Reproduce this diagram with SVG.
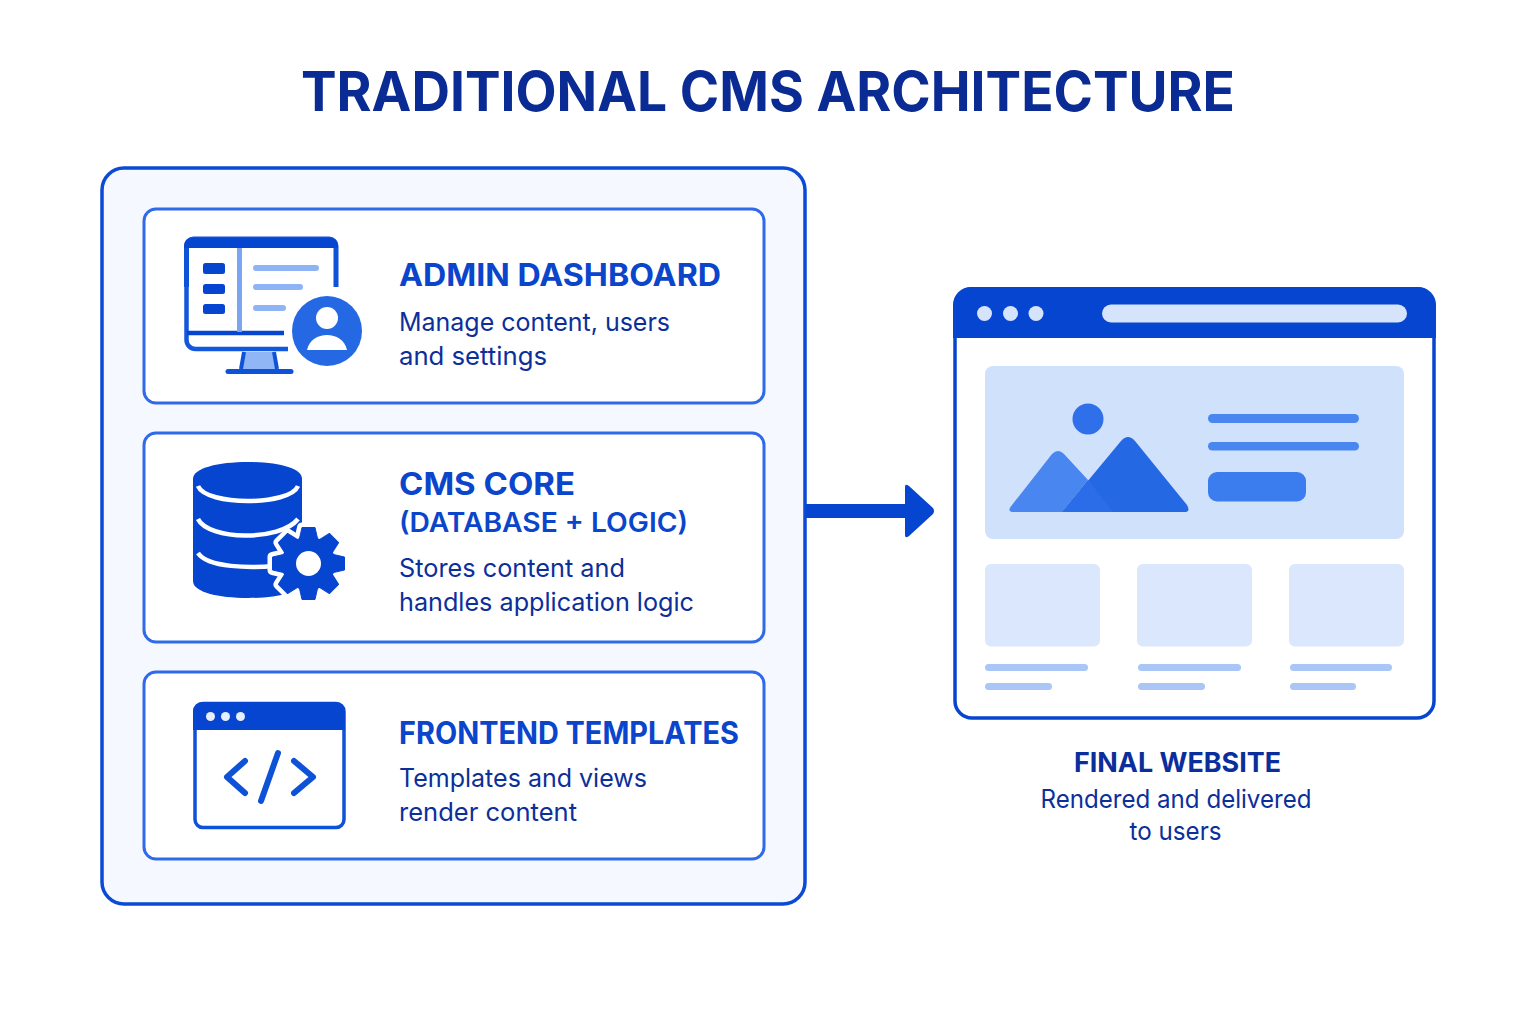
<svg xmlns="http://www.w3.org/2000/svg" xmlns:xlink="http://www.w3.org/1999/xlink" width="1536" height="1024" viewBox="0 0 1536 1024">
<style>
text{font-family:Inter,"Noto Sans","Liberation Sans",sans-serif}
.title{font-size:54.500px;font-weight:700;fill:#0a2a94}
.h{font-size:31px;font-weight:700;fill:#0a45cc}
.h2{font-size:27px;font-weight:600;fill:#0a45cc}
.b{font-size:25.500px;fill:#0c2f9a}
.card{fill:#fff;stroke:#2f6ae8;stroke-width:3}
.dk{fill:#0645d0}
.lt{fill:#8fb4f5}
</style>
<defs>
<g id="gearshape">
<circle r="26.500"/>
<polygon id="tooth" points="-9,-25 -6.500,-36 6.500,-36 9,-25" stroke-linejoin="round"/>
<use xlink:href="#tooth" transform="rotate(45)"/>
<use xlink:href="#tooth" transform="rotate(90)"/>
<use xlink:href="#tooth" transform="rotate(135)"/>
<use xlink:href="#tooth" transform="rotate(180)"/>
<use xlink:href="#tooth" transform="rotate(225)"/>
<use xlink:href="#tooth" transform="rotate(270)"/>
<use xlink:href="#tooth" transform="rotate(315)"/>
</g>
</defs>
<rect width="1536" height="1024" fill="#fff"/>
<text class="title" x="768" y="111" text-anchor="middle" textLength="934" lengthAdjust="spacingAndGlyphs">TRADITIONAL CMS ARCHITECTURE</text>

<g id="cms-panel"><rect x="102" y="168" width="703" height="736" rx="22" fill="#f5f8fe" stroke="#0a4ad4" stroke-width="3.500"/></g>

<g id="admin-dashboard">
<rect class="card" x="144" y="209" width="620" height="194" rx="12"/>
<path d="M186.500 287V246a7 7 0 0 1 7-7H329a7 7 0 0 1 7 7V287" fill="none" stroke="#0e52d8" stroke-width="5"/>
<path d="M184 246a8 8 0 0 1 8-8H330a8 8 0 0 1 8 8V248H184Z" class="dk"/>
<path d="M186.500 287V340a9 9 0 0 0 9 9H288" fill="none" stroke="#1358dc" stroke-width="4.500"/>
<path d="M187 333H284" stroke="#0645d0" stroke-width="4.500" fill="none"/>
<rect x="237" y="248" width="5" height="84" fill="#7aa5f2"/>
<rect class="dk" x="203" y="263" width="22" height="11" rx="2.500"/>
<rect class="dk" x="203" y="284" width="22" height="10" rx="2.500"/>
<rect class="dk" x="203" y="304" width="22" height="10" rx="2.500"/>
<rect class="lt" x="253" y="265" width="66" height="6" rx="3"/>
<rect class="lt" x="253" y="284" width="50" height="6" rx="3"/>
<rect class="lt" x="253" y="305" width="33" height="6" rx="3"/>
<path d="M244 352H274L277 369H241Z" fill="#90b6f5"/>
<path d="M244 352L241 369M274 352L277 369" stroke="#0e52d8" stroke-width="4" fill="none"/>
<path d="M228 371.500H291" stroke="#0e52d8" stroke-width="5" stroke-linecap="round"/>
<circle cx="327" cy="331" r="35" fill="#2568e4"/>
<circle cx="327" cy="318" r="11" fill="#fff"/>
<path d="M307 350C309 340 318 335 327 335S345 340 347 350Z" fill="#fff"/>
</g>

<g id="cms-core">
<rect class="card" x="144" y="433" width="620" height="209" rx="12"/>
<path class="dk" d="M193 479C193 468 218 462 248 462S302 468 302 479V581C302 592 278 598 248 598S193 592 193 581Z"/>
<g fill="none" stroke="#fff" stroke-width="4.500">
<path d="M198 486C206 506 290 506 298 486"/>
<path d="M198 519C208 540 280 542 298 519"/>
<path d="M198 553C208 568 250 568 275 566"/>
</g>
<g transform="translate(308.500 563.500)">
<use xlink:href="#gearshape" fill="#fff" stroke="#fff" stroke-width="10"/>
<use xlink:href="#gearshape" class="dk" stroke="#0645d0" stroke-width="1"/>
<circle r="12.500" fill="#fff"/>
</g>
</g>

<g id="frontend-templates">
<rect class="card" x="144" y="672" width="620" height="187" rx="12"/>
<rect x="195" y="703.500" width="149" height="124" rx="8" fill="#fff" stroke="#0e52d8" stroke-width="3.500"/>
<path class="dk" d="M193 711a9 9 0 0 1 9-9H336a9 9 0 0 1 9 9V730H193Z"/>
<circle cx="210.500" cy="716.500" r="4.500" fill="#e6effd"/>
<circle cx="225.500" cy="716.500" r="4.500" fill="#e6effd"/>
<circle cx="240.500" cy="716.500" r="4.500" fill="#e6effd"/>
<path d="M245 761L227 777L245 793M294 761L313 777L294 793M278 753L261 801" fill="none" stroke="#0e52d8" stroke-width="6" stroke-linecap="round" stroke-linejoin="round"/>
</g>

<g id="final-website">
<rect x="955" y="289" width="479" height="429" rx="17" fill="#fff" stroke="#0645d0" stroke-width="3.500"/>
<path class="dk" d="M953 338V305a18 18 0 0 1 18-18H1418a18 18 0 0 1 18 18V338Z"/>
<circle cx="984.500" cy="313.500" r="7.500" fill="#d6e4fb"/>
<circle cx="1010.500" cy="313.500" r="7.500" fill="#d6e4fb"/>
<circle cx="1036" cy="313.500" r="7.500" fill="#d6e4fb"/>
<rect x="1102" y="304.500" width="305" height="18" rx="9" fill="#d6e4fb"/>
<rect x="985" y="366" width="419" height="173" rx="8" fill="#d0e1fb"/>
<circle cx="1088" cy="419" r="15.500" fill="#2f70ea"/>
<path d="M1062 512L1121 441Q1128 433 1135 441L1187 505Q1191 512 1184 512Z" fill="#2568e4"/>
<path d="M1012 505L1052 454Q1058 448 1064 454L1088 480L1062 512H1014Q1006 512 1012 505Z" fill="#4a86f0"/>
<path d="M1088 480L1113 512H1062Z" fill="#2b6de8"/>
<rect x="1208" y="414" width="151" height="9" rx="4.500" fill="#4a86f0"/>
<rect x="1208" y="442" width="151" height="8.500" rx="4.250" fill="#4a86f0"/>
<rect x="1208" y="472" width="98" height="29.500" rx="9" fill="#3b7cee"/>
<rect x="985" y="564" width="115" height="82.500" rx="6" fill="#dbe7fc"/>
<rect x="1137" y="564" width="115" height="82.500" rx="6" fill="#dbe7fc"/>
<rect x="1289" y="564" width="115" height="82.500" rx="6" fill="#dbe7fc"/>
<g fill="#a9c6f7">
<rect x="985" y="664" width="103" height="7" rx="3.500"/>
<rect x="985" y="683" width="67" height="7" rx="3.500"/>
<rect x="1138" y="664" width="103" height="7" rx="3.500"/>
<rect x="1138" y="683" width="67" height="7" rx="3.500"/>
<rect x="1290" y="664" width="102" height="7" rx="3.500"/>
<rect x="1290" y="683" width="66" height="7" rx="3.500"/>
</g>
</g>

<g id="connectors">
<path class="dk" d="M806 504H905V487Q905 483 909 486L933 508Q935 511 933 514L909 536Q905 539 905 535V518H806Z"/>
</g>

<g id="labels">
<text class="h" x="399" y="286" textLength="322" lengthAdjust="spacingAndGlyphs">ADMIN DASHBOARD</text>
<text class="b" x="399" y="331" textLength="271" lengthAdjust="spacingAndGlyphs">Manage content, users</text>
<text class="b" x="399" y="365" textLength="148" lengthAdjust="spacingAndGlyphs">and settings</text>
<text class="h" x="399" y="495" textLength="176" lengthAdjust="spacingAndGlyphs">CMS CORE</text>
<text class="h2" x="399" y="532" textLength="289" lengthAdjust="spacingAndGlyphs">(DATABASE + LOGIC)</text>
<text class="b" x="399" y="577" textLength="226" lengthAdjust="spacingAndGlyphs">Stores content and</text>
<text class="b" x="399" y="611" textLength="295" lengthAdjust="spacingAndGlyphs">handles application logic</text>
<text class="h" x="399" y="744" textLength="340" lengthAdjust="spacingAndGlyphs">FRONTEND TEMPLATES</text>
<text class="b" x="399" y="787" textLength="248" lengthAdjust="spacingAndGlyphs">Templates and views</text>
<text class="b" x="399" y="821" textLength="178" lengthAdjust="spacingAndGlyphs">render content</text>
<text class="h2" x="1177.500" y="772" text-anchor="middle" textLength="207" lengthAdjust="spacingAndGlyphs" style="font-weight:700;fill:#0a2e9c">FINAL WEBSITE</text>
<text class="b" x="1176" y="808" text-anchor="middle" textLength="271" lengthAdjust="spacingAndGlyphs">Rendered and delivered</text>
<text class="b" x="1175.500" y="840" text-anchor="middle" textLength="92" lengthAdjust="spacingAndGlyphs">to users</text>
</g>
</svg>
